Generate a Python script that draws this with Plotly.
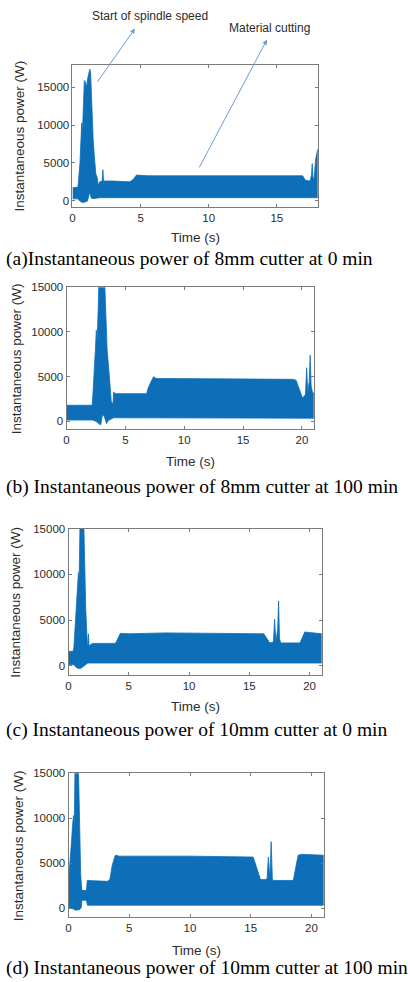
import plotly.graph_objects as go

# ---------------- data (envelopes of the power signal, W) ----------------
A_T_UP = [0, 0.40, 0.45, 0.55, 0.62, 0.68, 0.73, 0.80, 0.87, 0.95, 1.03, 1.12, 1.20, 1.27, 1.33, 1.42,
          1.52, 1.62, 1.72, 1.80, 1.90, 2.00, 2.18, 2.23, 2.28, 3.00, 4.20, 4.45, 4.70, 5.50, 10.0, 16.90,
          17.10, 17.45, 17.55, 17.60, 17.66, 17.75, 17.85, 17.95, 18.0]
A_P_UP = [1700, 1800, 2800, 5000, 8000, 10300, 9000, 12500, 15900, 15700, 15000, 16200, 17000, 17400, 17000, 12500,
          8000, 5500, 3500, 3200, 2000, 2500, 2600, 4100, 2600, 2600, 2500, 2800, 3400, 3300, 3300, 3300,
          2700, 2600, 3500, 4900, 2800, 3200, 5500, 6800, 6800]
A_T_LO = [0, 0.42, 0.50, 0.75, 0.95, 1.10, 1.20, 1.26, 1.32, 1.40, 1.60, 2.0, 18.0]
A_P_LO = [250, 250, 0, -250, -150, -50, 700, 1100, 700, 300, 300, 400, 400]

B_T_UP = [0, 2.18, 2.22, 2.35, 2.45, 2.53, 2.60, 2.70, 2.76, 3.23, 3.35, 3.45, 3.54, 3.60, 3.70, 3.80,
          3.95, 4.00, 4.10, 6.80, 6.95, 7.20, 7.40, 7.60, 19.20, 19.50, 19.80, 20.05, 20.30, 20.40, 20.50,
          20.62, 20.70, 20.78, 20.90, 21.0]
B_P_UP = [1800, 1800, 2500, 5000, 8000, 10200, 9000, 13000, 16000, 16000, 11000, 8000, 6600, 5000, 4000, 2200,
          2000, 3300, 3100, 3100, 3800, 4500, 5000, 4800, 4700, 4600, 3500, 2600, 3000, 6000, 3200,
          4500, 7400, 4000, 3200, 3200]
B_T_LO = [0, 2.20, 2.50, 2.90, 3.05, 3.20, 3.40, 3.55, 4.0, 21.0]
B_P_LO = [150, 150, 0, -400, 700, 600, -250, 100, 400, 350]

C_T_UP = [0, 0.40, 0.45, 0.60, 0.75, 0.82, 0.88, 0.96, 1.26, 1.35, 1.43, 1.52, 1.57, 1.62, 1.65, 1.70,
          1.80, 2.0, 3.90, 4.10, 4.30, 5.0, 8.0, 16.20, 16.50, 16.70, 17.00, 17.10, 17.20, 17.35, 17.43,
          17.50, 17.60, 19.20, 19.40, 19.60, 21.0]
C_P_UP = [1550, 1600, 2100, 5000, 8500, 10200, 9500, 16000, 16000, 9000, 6200, 3500, 1900, 2800, 3500, 2100,
          2300, 2450, 2450, 3000, 3550, 3500, 3600, 3500, 2900, 2500, 2600, 5100, 2600, 4000, 7100,
          3000, 2500, 2500, 3100, 3700, 3500]
C_T_LO = [0, 0.45, 0.70, 1.00, 1.20, 1.35, 1.60, 21.0]
C_P_LO = [150, 100, -250, -300, -100, 0, 300, 300]

D_T_UP = [0, 0.10, 0.25, 0.35, 0.41, 0.47, 0.54, 0.81, 0.90, 1.00, 1.06, 1.10, 1.48, 1.54, 3.20, 3.40,
          3.60, 3.85, 4.2, 10.0, 15.20, 15.50, 15.80, 16.20, 16.35, 16.45, 16.52, 16.58, 16.68, 16.72,
          16.78, 16.85, 17.0, 18.50, 18.70, 18.90, 19.2, 21.0]
D_P_UP = [3000, 4500, 7500, 9500, 10300, 9000, 16000, 16000, 8000, 3900, 2500, 2000, 2000, 3100, 3000, 3200,
          4800, 5900, 5800, 5800, 5700, 4500, 3200, 3200, 3300, 5700, 3300, 3300, 7400, 4500,
          3300, 3100, 3100, 3100, 4500, 5900, 6000, 5900]
D_T_LO = [0, 0.30, 0.60, 0.90, 1.05, 1.10, 1.48, 1.55, 21.0]
D_P_LO = [100, 0, -200, -150, 100, 900, 900, 350, 350]

X_RANGES = [[0, 18], [0, 21], [0, 21], [0, 21]]
Y_RANGES = [[-800, 18000], [-900, 15000], [-1000, 15000], [-1000, 15000]]
X_TICKS = [[0, 5, 10, 15], [0, 5, 10, 15, 20], [0, 5, 10, 15, 20], [0, 5, 10, 15, 20]]
Y_TICKS = [0, 5000, 10000, 15000]

CAPTIONS = ["(a)Instantaneous power of 8mm cutter at 0 min",
            "(b) Instantaneous power of 8mm cutter at 100 min",
            "(c) Instantaneous power of 10mm cutter at 0 min",
            "(d) Instantaneous power of 10mm cutter at 100 min"]
Y_TITLE = "Instantaneous power (W)"
X_TITLE = "Time (s)"
NOTE_1 = "Start of spindle speed"
NOTE_2 = "Material cutting"

# ---------------- layout (pixel boxes) ----------------
W, H = 410, 982
BOXES = [(70, 317, 59, 202), (64, 313, 283, 426), (66, 321, 526, 673), (66, 323, 772, 917)]
CAP_Y = [255, 484, 728, 968]
XT_Y = [233, 458, 705, 950]
YT_X = [17, 13, 13, 15]

BLUE = "#0C6FB8"
AXC = "#7a7a7a"
TXT = "#2b2b2b"
SANS = "Liberation Sans, Arial, sans-serif"
SERIF = "Liberation Serif, Times New Roman, serif"

panels = [(A_T_UP, A_P_UP, A_T_LO, A_P_LO), (B_T_UP, B_P_UP, B_T_LO, B_P_LO),
          (C_T_UP, C_P_UP, C_T_LO, C_P_LO), (D_T_UP, D_P_UP, D_T_LO, D_P_LO)]

fig = go.Figure()
annotations = []
for i, (tu, pu, tl, pl) in enumerate(panels):
    n = "" if i == 0 else str(i + 1)
    fig.add_trace(go.Scatter(
        x=list(tu) + list(tl)[::-1], y=list(pu) + list(pl)[::-1],
        fill="toself", fillcolor=BLUE, mode="lines",
        line=dict(color=BLUE, width=0.8), hoverinfo="skip", showlegend=False,
        xaxis="x" + n, yaxis="y" + n))
    l, r, t, b = BOXES[i]
    common = dict(showline=True, mirror="ticks", linecolor=AXC, linewidth=1,
                  ticks="inside", ticklen=3, tickcolor=AXC, showgrid=False, zeroline=False,
                  tickfont=dict(family=SANS, size=11.5, color=TXT))
    ax = dict(domain=[l / W, r / W], range=X_RANGES[i], tickvals=X_TICKS[i], anchor="y" + n, **common)
    ay = dict(domain=[1 - b / H, 1 - t / H], range=Y_RANGES[i], tickvals=Y_TICKS, tickformat="d",
              anchor="x" + n, **common)
    fig.update_layout(**{"xaxis" + n: ax, "yaxis" + n: ay})
    annotations.append(dict(text=CAPTIONS[i], xref="paper", yref="paper", x=1 / W, y=1 - CAP_Y[i] / H,
                            xanchor="left", yanchor="middle", showarrow=False,
                            font=dict(family=SERIF, size=19.5, color="black")))
    annotations.append(dict(text=X_TITLE, xref="paper", yref="paper", x=(l + r) / 2 / W, y=1 - XT_Y[i] / H,
                            xanchor="center", yanchor="middle", showarrow=False,
                            font=dict(family=SANS, size=13.5, color=TXT)))
    annotations.append(dict(text=Y_TITLE, xref="paper", yref="paper", x=YT_X[i] / W, y=1 - (t + b) / 2 / H,
                            xanchor="center", yanchor="middle", showarrow=False, textangle=-90,
                            font=dict(family=SANS, size=13.5, color=TXT)))

ARROW_C = "#6b9bd2"
# arrows in panel (a) data coordinates: tail on the signal, head toward the label
annotations += [
    dict(text="", x=4.59, y=22770, ax=1.75, ay=15530, xref="x", yref="y", axref="x", ayref="y",
         showarrow=True, arrowhead=2, arrowsize=1, arrowwidth=1, arrowcolor=ARROW_C),
    dict(text="", x=14.28, y=21320, ax=9.25, ay=4210, xref="x", yref="y", axref="x", ayref="y",
         showarrow=True, arrowhead=2, arrowsize=1, arrowwidth=1, arrowcolor=ARROW_C),
    dict(text=NOTE_1, x=148 / W, y=1 - 10 / H, xref="paper", yref="paper", showarrow=False,
         xanchor="center", yanchor="middle", font=dict(family=SANS, size=12, color=TXT)),
    dict(text=NOTE_2, x=268 / W, y=1 - 22 / H, xref="paper", yref="paper", showarrow=False,
         xanchor="center", yanchor="middle", font=dict(family=SANS, size=12, color=TXT)),
]

fig.update_layout(width=W, height=H, margin=dict(l=0, r=0, t=0, b=0),
                  paper_bgcolor="white", plot_bgcolor="white", annotations=annotations)
fig.write_html("out.html", config={"displayModeBar": False},
               post_script="document.body.style.margin='0';document.body.style.padding='0';"
                           "document.body.style.overflow='hidden';")
